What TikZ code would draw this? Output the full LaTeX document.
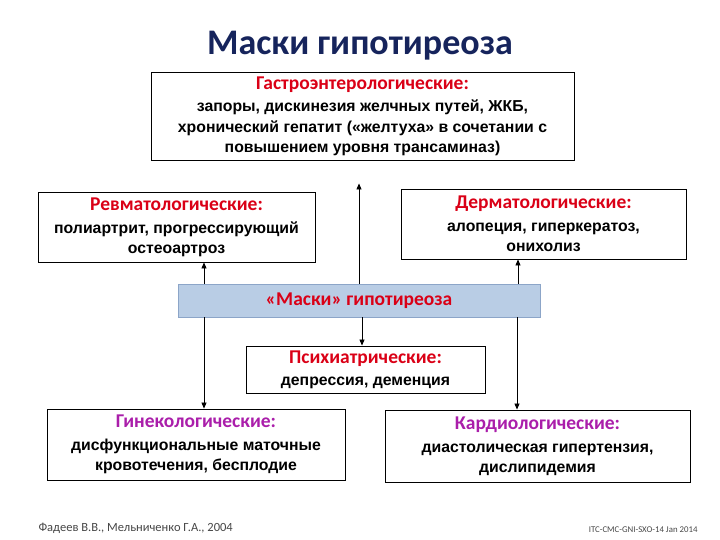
\documentclass[tikz,border=0pt]{standalone}
\usepackage{fontspec}
\setmainfont{Liberation Sans}
\newfontfamily\calibri{Carlito}
\usetikzlibrary{positioning, arrows.meta}
\definecolor{TitleNavy}{RGB}{22, 36, 92}
\definecolor{HeadRed}{RGB}{218, 0, 22}
\definecolor{HeadPurple}{RGB}{170, 30, 170}
\definecolor{MaskFill}{RGB}{185, 205, 229}
\definecolor{MaskLine}{RGB}{140, 165, 200}
\definecolor{FootGray}{RGB}{70, 70, 70}
\newcommand{\hd}[2][HeadRed]{{\calibri\bfseries\fontsize{19.5}{22}\selectfont\color{#1}#2}}

\begin{document}
\begin{tikzpicture}[x=1pt, y=-1pt,
    group/.style={draw, line width=0.9pt, rectangle, inner sep=0pt, align=center,
      font=\bfseries\fontsize{15.8}{20}\selectfont},
    arr/.style={-{Triangle[length=6pt, width=5pt]}, line width=0.8pt}]
    \useasboundingbox (0,0) rectangle (720,540);

    % Title
    \node[font=\calibri\bfseries\fontsize{36}{40}\selectfont, text=TitleNavy] (title) at (360,46) {Маски гипотиреоза};

    % Upper groups
    \node[group, minimum width=423pt, minimum height=88pt] (gastro) at (362.5,116)
      {\hd{Гастроэнтерологические:}\\[2pt] запоры, дискинезия желчных путей, ЖКБ,\\[1pt]
       хронический гепатит («желтуха» в сочетании с\\ повышением уровня трансаминаз)};
    \node[group, minimum width=277pt, minimum height=70pt] (rheum) at (176.5,227)
      {\hd{Ревматологические:}\\[3pt] полиартрит, прогрессирующий\\ остеоартроз};
    \node[group, minimum width=285pt, minimum height=70pt] (derm) at (543.5,224)
      {\hd{Дерматологические:}\\[3pt] алопеция, гиперкератоз,\\ онихолиз};

    % Central box
    \node[draw=MaskLine, fill=MaskFill, line width=0.9pt, minimum width=362pt, minimum height=33pt,
      inner sep=0pt] (mask) at (359,300.5) {\hd{«Маски» гипотиреоза}};

    % Lower groups
    \node[group, minimum width=239pt, minimum height=47pt] (psych) at (365.5,369.5)
      {\hd{Психиатрические:}\\[2pt] депрессия, деменция};
    \node[group, minimum width=298pt, minimum height=71pt] (gyn) at (196,444.5)
      {\hd[HeadPurple]{Гинекологические:}\\[3pt] дисфункциональные маточные\\ кровотечения, бесплодие};
    \node[group, minimum width=305pt, minimum height=72pt] (cardio) at (537.5,446)
      {\hd[HeadPurple]{Кардиологические:}\\[3pt] диастолическая гипертензия,\\ дислипидемия};

    % Arrows
    \draw[arr, shorten >=23pt] (mask.north) -- (mask.north |- gastro.south);
    \draw[arr] ([xshift=-155pt]mask.north) -- ([xshift=-155pt]mask.north |- rheum.south);
    \draw[arr] ([xshift=159pt]mask.north) -- ([xshift=159pt]mask.north |- derm.south);
    \draw[arr] ([xshift=3pt]mask.south) -- ([xshift=3pt]mask.south |- psych.north);
    \draw[arr] ([xshift=-155pt]mask.south) -- ([xshift=-155pt]mask.south |- gyn.north);
    \draw[arr] ([xshift=158pt]mask.south) -- ([xshift=158pt]mask.south |- cardio.north);

    % Footer
    \node[font=\calibri\fontsize{12.5}{14}\selectfont, text=FootGray, anchor=west] (source) at (35,528)
      {Фадеев В.В., Мельниченко Г.А., 2004};
    \node[font=\calibri\fontsize{8.8}{10}\selectfont, text=FootGray, anchor=east] (code) at (701,530)
      {ITC-CMC-GNI-SXO-14 Jan 2014};
\end{tikzpicture}
\end{document}
